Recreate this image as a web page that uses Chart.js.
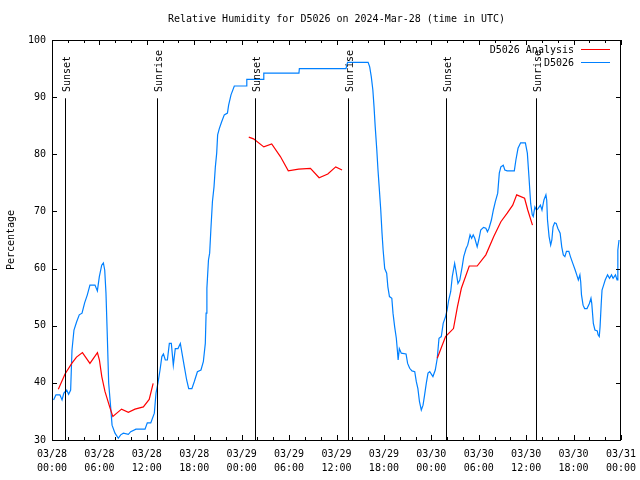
<!DOCTYPE html>
<html>
<head>
<meta charset="utf-8">
<title>Relative Humidity for D5026</title>
<script src="https://cdn.jsdelivr.net/npm/chart.js@4/dist/chart.umd.min.js"></script>
<style>
  html, body { margin: 0; padding: 0; background: #fff; }
  #wrap { width: 640px; height: 480px; }
</style>
</head>
<body>
<div id="wrap"><canvas id="grafico" width="640" height="480"></canvas></div>
<script>
// hours since 2024-03-28 00:00 UTC
const tickDates = ["03/28","03/28","03/28","03/28","03/29","03/29","03/29","03/29","03/30","03/30","03/30","03/30","03/31"];
const tickTimes = ["00:00","06:00","12:00","18:00","00:00","06:00","12:00","18:00","00:00","06:00","12:00","18:00","00:00"];

// station obs (D5026)
const obsHours = [
  0.2,0.5,1.0,1.27,1.5,1.86,2.1,2.36,2.53,2.78,3.12,3.45,3.8,4.13,4.47,4.8,5.44,5.74,5.99,6.29,6.5,6.67,6.83,7.0,7.17,7.42,7.6,7.97,8.39,8.69,9.03,9.66,9.96,10.63,11.77,12.06,12.5,12.95,
  13.16,13.4,13.67,13.9,14.1,14.34,14.6,14.85,15.1,15.35,15.6,15.94,16.24,16.45,16.75,17.04,17.3,17.7,18.0,18.4,18.85,19.15,19.4,19.5,19.6,19.8,19.95,20.1,20.3,20.5,20.67,20.84,20.96,21.17,21.47,21.8,22.2,22.35,22.65,23.07,
  24.6,24.65,26.7,26.8,31.25,31.3,37.2,37.4,40.0,40.2,40.4,40.6,40.75,40.9,41.1,41.25,41.4,41.6,41.76,41.9,42.1,42.35,42.5,42.7,43.0,43.15,43.36,43.57,43.7,43.8,43.95,44.2,44.8,45.0,45.26,45.55,45.9,46.1,46.3,46.5,46.73,46.95,47.15,47.36,47.58,47.8,48.2,48.5,
  48.75,48.97,49.26,49.5,49.8,50.0,50.2,50.45,50.65,50.95,51.1,51.37,51.6,51.9,52.1,52.4,52.6,52.9,53.1,53.3,53.5,53.8,54.0,54.25,54.6,54.9,55.1,55.3,55.6,55.85,56.1,56.4,56.6,56.8,57.1,57.3,57.6,58.5,58.7,58.97,59.3,59.9,60.15,60.35,60.57,60.77,
  60.9,61.1,61.3,61.5,61.8,62.0,62.25,62.5,62.6,62.7,62.9,63.1,63.25,63.4,63.6,63.8,64.0,64.3,64.5,64.7,64.9,65.1,65.4,65.6,65.9,66.2,66.4,66.6,66.8,66.9,67.0,67.2,67.4,67.7,68.0,68.2,68.3,68.5,68.7,69.0,69.1,69.25,69.35,69.5,69.6,69.8,70.0,70.3,70.55,70.8,71.0,71.3,71.5,71.6,71.75
];
const obsValues = [
  37.0,37.9,37.9,37.0,38.2,38.75,38.0,38.75,45.75,49.25,50.7,51.9,52.2,54.0,55.4,57.1,57.1,56.1,58.6,60.6,61.0,59.75,55.7,48.1,40.0,35.8,32.6,31.2,30.3,30.9,31.2,31.0,31.45,31.9,31.9,33.0,33.0,34.7,
  38.2,39.9,42.25,44.6,45.05,44.0,44.0,46.9,46.9,43.1,46.0,46.0,46.9,45.2,42.8,40.5,39.0,39.0,40.2,41.95,42.25,43.7,46.9,52.2,56.55,61.5,62.7,66.75,71.7,74.3,77.8,80.2,83.4,84.5,85.7,86.9,87.2,88.6,90.4,91.95,
  91.95,93.1,93.1,94.2,94.2,95.0,95.0,96.1,96.1,95.3,93.6,91.25,88.3,84.8,80.75,77.25,74.3,70.25,66.2,63.25,60.0,59.2,56.8,55.1,54.8,52.2,49.8,47.8,45.75,44.0,46.0,45.2,45.05,43.4,42.55,42.1,41.95,40.2,39.0,36.7,35.25,36.1,37.9,39.9,41.7,41.95,41.1,42.25,
  44.3,47.8,48.1,50.4,51.6,52.75,54.5,55.95,58.6,60.9,59.75,57.4,58.0,60.3,62.1,63.5,64.1,65.9,65.3,65.9,65.3,63.8,65.0,66.75,67.2,67.05,66.45,67.05,68.5,70.25,71.7,73.2,76.7,77.8,78.1,77.25,77.1,77.1,79.0,81.05,82.0,82.0,80.2,76.1,71.4,69.4,
  69.1,70.8,70.25,70.5,71.1,70.25,72.0,72.9,72.0,68.5,65.6,64.1,65.0,67.3,68.0,67.9,67.05,66.2,63.8,62.4,62.1,63.0,63.0,62.1,60.9,59.75,58.9,58.0,58.9,57.7,55.4,53.6,53.0,53.0,53.9,54.8,53.9,50.4,49.25,49.1,48.4,48.1,49.8,53.9,56.25,57.1,58.0,58.9,58.3,58.9,58.3,58.9,58.0,63.25,65.0
];

// analysis (null = no data)
const anaHours = [
  0.8,1.65,2.5,3.1,3.85,4.8,5.75,6.0,6.3,6.7,7.3,7.7,8.2,8.8,9.66,10.5,11.56,12.3,12.8,
  18.0,
  24.9,25.5,26.8,27.8,28.9,29.9,31.2,32.7,33.8,34.9,35.9,36.7,
  42.0,
  48.75,49.8,50.8,51.3,51.8,52.8,53.8,54.9,55.9,56.8,57.6,58.3,58.8,59.8,60.2,60.8
];
const anaValues = [
  38.9,41.55,43.4,44.5,45.3,43.4,45.3,44.0,41.1,38.5,35.8,34.1,34.7,35.4,34.85,35.4,35.8,37.1,39.9,
  null,
  83.0,82.7,81.3,81.8,79.6,77.1,77.4,77.55,75.9,76.55,77.8,77.25,
  null,
  44.3,48.1,49.5,53.3,56.55,60.45,60.45,62.4,65.6,68.2,69.7,71.1,72.9,72.3,70.25,67.6
];

const eventHours  = [1.65, 13.3, 25.7, 37.4, 49.8, 61.3];
const eventLabels = ["Sunset","Sunrise","Sunset","Sunrise","Sunset","Sunrise"];

const FONT = "'DejaVu Sans Mono', 'Liberation Mono', monospace";
const toPts = (xs, ys) => xs.map((x, i) => ({ x, y: ys[i] }));

// frame, inward ticks, sun lines, legend, titles (gnuplot look)
const decor = {
  id: "decor",
  afterDatasetsDraw(chart){
    const { ctx, chartArea: a, scales: { x, y } } = chart;
    ctx.save();
    ctx.strokeStyle = "#000";
    ctx.lineWidth = 1;

    // sunrise/sunset lines
    ctx.fillStyle = "#000";
    ctx.font = "10px " + FONT;
    eventHours.forEach((h, i) => {
      const px = Math.round(x.getPixelForValue(h)) + 0.5;
      ctx.beginPath();
      ctx.moveTo(px, y.getPixelForValue(89.8));
      ctx.lineTo(px, a.bottom);
      ctx.stroke();
      ctx.save();
      ctx.translate(px + 4.5, 92);
      ctx.rotate(-Math.PI / 2);
      ctx.textAlign = "left";
      ctx.textBaseline = "alphabetic";
      ctx.fillText(eventLabels[i], 0, 0);
      ctx.restore();
    });

    // frame
    ctx.strokeRect(a.left + 0.5, a.top + 0.5, a.right - a.left - 1, a.bottom - a.top);

    // ticks
    ctx.beginPath();
    for (let v = 30; v <= 100; v += 10){
      const py = Math.round(y.getPixelForValue(v)) + 0.5;
      ctx.moveTo(a.left, py); ctx.lineTo(a.left + 5, py);
      ctx.moveTo(a.right, py); ctx.lineTo(a.right - 5, py);
    }
    for (let h = 0; h <= 72; h += 2){
      const px = Math.round(x.getPixelForValue(h)) + 0.5;
      const len = h % 6 === 0 ? 5 : 3;
      ctx.moveTo(px, a.bottom); ctx.lineTo(px, a.bottom - len);
      ctx.moveTo(px, a.top); ctx.lineTo(px, a.top + len);
    }
    ctx.stroke();

    // legend
    chart.data.datasets.forEach((ds, i) => {
      const ly = 49 + i * 13;
      ctx.fillStyle = "#000";
      ctx.textAlign = "right";
      ctx.textBaseline = "middle";
      ctx.fillText(ds.label, 574, ly + 1);
      ctx.strokeStyle = ds.borderColor;
      ctx.beginPath();
      ctx.moveTo(581, ly + 0.5);
      ctx.lineTo(610, ly + 0.5);
      ctx.stroke();
    });

    // title + y axis title
    ctx.fillStyle = "#000";
    ctx.textAlign = "center";
    ctx.textBaseline = "middle";
    ctx.fillText("Relative Humidity for D5026 on 2024-Mar-28 (time in UTC)", (a.left + a.right) / 2, 19);
    ctx.save();
    ctx.translate(11, (a.top + a.bottom) / 2);
    ctx.rotate(-Math.PI / 2);
    ctx.fillText("Percentage", 0, 0);
    ctx.restore();
    ctx.restore();
  }
};

const ctx = document.getElementById("grafico").getContext("2d");
new Chart(ctx, {
  type: "line",
  data: {
    datasets: [
      { label: "D5026 Analysis", data: toPts(anaHours, anaValues), borderColor: "#ff0000", borderWidth: 1.2, pointRadius: 0, spanGaps: false, tension: 0 },
      { label: "D5026", data: toPts(obsHours, obsValues), borderColor: "#0080ff", borderWidth: 1.2, pointRadius: 0, tension: 0 }
    ]
  },
  options: {
    responsive: false,
    animation: false,
    devicePixelRatio: 1,
    layout: { padding: { top: 40, right: 19, left: 0, bottom: 0 } },
    plugins: { legend: { display: false }, title: { display: false }, tooltip: { enabled: false } },
    scales: {
      x: {
        type: "linear", min: 0, max: 72,
        grid: { display: false, drawTicks: false },
        border: { display: false },
        afterFit(s){ s.height = 40; s.paddingLeft = 0; s.paddingRight = 0; },
        ticks: {
          stepSize: 6, autoSkip: false, maxRotation: 0, padding: 7,
          color: "#000", font: { family: FONT, size: 10, lineHeight: 1.4 },
          callback: (v) => { const i = Math.round(v / 6); return [tickDates[i], tickTimes[i]]; }
        }
      },
      y: {
        min: 30, max: 100,
        grid: { display: false, drawTicks: false },
        border: { display: false },
        afterFit(s){ s.width = 52; },
        ticks: { stepSize: 10, padding: 6, color: "#000", font: { family: FONT, size: 10 } }
      }
    }
  },
  plugins: [decor]
});
</script>
</body>
</html>
